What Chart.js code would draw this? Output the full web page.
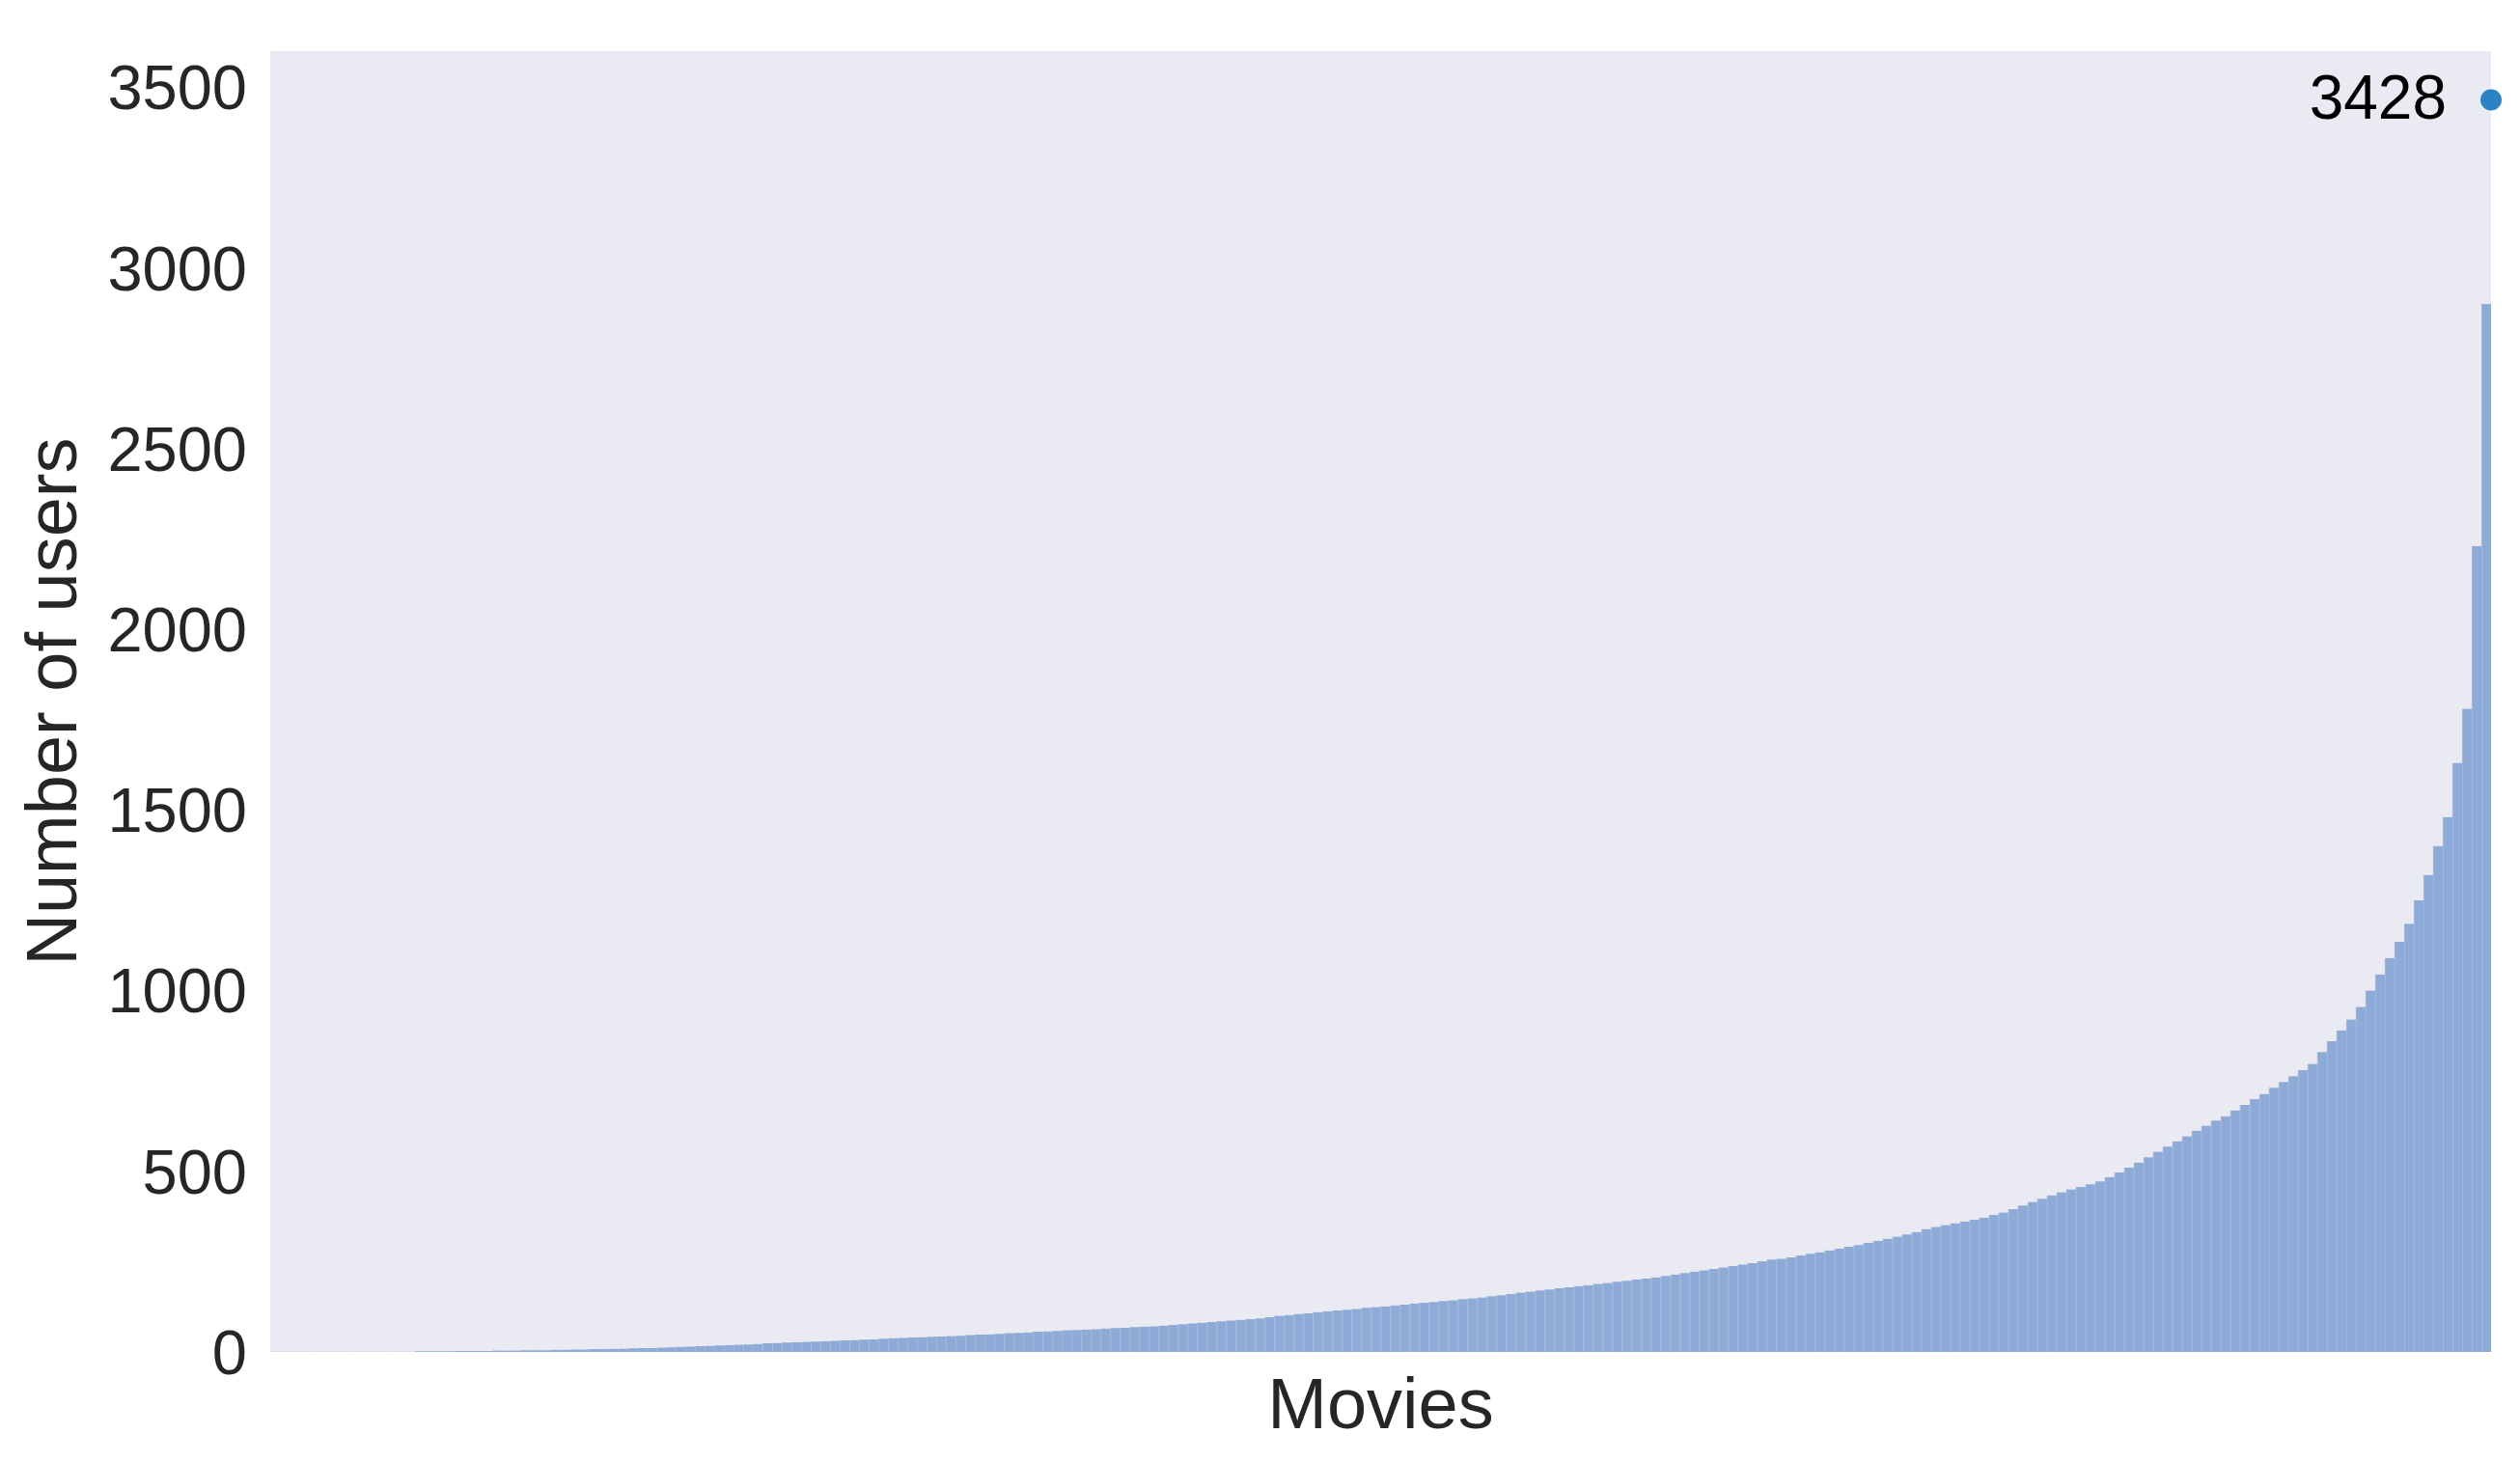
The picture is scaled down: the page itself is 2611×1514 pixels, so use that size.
<!DOCTYPE html>
<html>
<head>
<meta charset="utf-8">
<script src="https://cdn.jsdelivr.net/npm/chart.js@4.4.1/dist/chart.umd.min.js"></script>
<style>
  html, body { margin: 0; padding: 0; background: #ffffff; }
  #wrap { width: 2611px; height: 1514px; }
</style>
</head>
<body>
<div id="wrap"><canvas id="usersChart" width="2611" height="1514"></canvas></div>
<script>
/* DATA (movies sorted by number of users) */

const USERS_PER_MOVIE = [
  1, 1, 1, 1, 1, 1, 1, 1, 1, 1, 1, 1, 1, 1, 1,
  2, 2, 2, 2, 3, 3, 3, 3, 4, 4, 4, 5, 5, 5, 6, 6, 7, 7, 8, 8, 9, 9,
  10, 11, 11, 12, 13, 14, 15, 16, 17, 18, 19, 20, 21, 22, 24,
  25, 26, 27, 28, 29, 30, 31, 32, 33, 34,
  35, 37, 38, 39, 40, 41, 42, 43, 44, 45,
  47, 48, 49, 50, 52, 53, 54, 56, 57, 58,
  60, 61, 62, 63, 65, 66, 67, 69, 70, 71,
  73, 75, 77, 79, 81, 83, 85, 87, 89, 91,
  93, 96,
  100, 102, 105, 107, 110, 112, 115, 117, 119, 122,
  124, 126, 129, 131, 134, 136, 138, 141, 143, 146,
  148, 151, 154, 157, 160, 164, 167, 170, 173, 176,
  179, 182, 185, 188, 191, 194, 197, 200, 203, 206,
  210, 214, 218, 222, 226, 230, 234, 238, 242, 246,
  251, 256,
  258, 262, 267, 272, 276, 281, 286, 291, 296, 302,
  307, 313, 319, 325, 332, 340, 346, 351, 356, 361,
  366, 372, 379, 386, 395, 405, 415, 424, 433, 442,
  450, 457, 464, 472, 484, 497, 510, 524, 539, 554,
  568, 583, 597, 612, 626, 640, 652, 668, 684, 700,
  714, 731,
  747, 763, 780, 797, 830, 860, 890, 920, 955, 1000,
  1045, 1090, 1135, 1185, 1250, 1320, 1400, 1480, 1630, 1780,
  2230, 2900
];

const MAX_USERS = 3428;        // annotated maximum
const MAX_DOT_Y = 3465;        // where the marker sits in the picture
const Y_TICKS = [0, 500, 1000, 1500, 2000, 2500, 3000, 3500];
const Y_MAX = 3600;

const N = USERS_PER_MOVIE.length;
const barPoints = USERS_PER_MOVIE.map((v, i) => ({ x: i + 1, y: v }));

/* PLUGINS */

const plotBackground = {
  id: "plotBackground",
  beforeDraw(chart) {
    const { ctx, chartArea: a } = chart;
    ctx.save();
    ctx.fillStyle = "#eaeaf2";
    ctx.fillRect(a.left, a.top, a.right - a.left, a.bottom - a.top);
    ctx.restore();
  }
};

const maxLabel = {
  id: "maxLabel",
  afterDatasetsDraw(chart) {
    const pt = chart.getDatasetMeta(1).data[0];
    if (!pt) return;
    const ctx = chart.ctx;
    ctx.save();
    ctx.font = '64px "Liberation Sans", Arial, sans-serif';
    ctx.fillStyle = "#000000";
    ctx.textAlign = "right";
    ctx.textBaseline = "middle";
    ctx.fillText(String(MAX_USERS), pt.x - 46, pt.y + 2);
    ctx.restore();
  }
};

/* CHART */

new Chart(document.getElementById("usersChart"), {
  type: "bar",
  data: {
    datasets: [
      {
        type: "bar",
        data: barPoints,
        backgroundColor: "#8eabd8",
        borderColor: "rgba(98,138,204,0.45)",
        borderWidth: { left: 1, right: 0, top: 0, bottom: 0 },
        borderSkipped: false,
        barPercentage: 1,
        categoryPercentage: 1,
        order: 2
      },
      {
        type: "line",
        data: [{ x: N + 0.5, y: MAX_DOT_Y }],
        showLine: false,
        pointRadius: 11,
        pointBackgroundColor: "#2b83c6",
        pointBorderWidth: 0,
        clip: false,
        order: 1
      }
    ]
  },
  options: {
    responsive: false,
    animation: false,
    devicePixelRatio: 1,
    layout: { padding: { top: 53, right: 30, left: 0, bottom: 0 } },
    plugins: {
      legend: { display: false },
      tooltip: { enabled: false }
    },
    scales: {
      x: {
        type: "linear",
        min: 0.5,
        max: N + 0.5,
        offset: false,
        grid: { display: false, drawTicks: false, offset: false },
        border: { display: false },
        ticks: { display: false },
        title: {
          display: true,
          text: "Movies",
          color: "#262626",
          font: { family: '"Liberation Sans", Arial, sans-serif', size: 74 },
          padding: { top: 0, bottom: 10 }
        },
        afterFit(scale) {
          scale.height = 113;
          scale.paddingLeft = 0;
          scale.paddingRight = 0;
        }
      },
      y: {
        min: 0,
        max: Y_MAX,
        grid: { display: false, drawTicks: false },
        border: { display: false },
        ticks: {
          color: "#262626",
          padding: 24,
          labelOffset: 5,
          font: { family: '"Liberation Sans", Arial, sans-serif', size: 65 },
          callback: v => String(v)
        },
        afterBuildTicks(scale) { scale.ticks = Y_TICKS.map(v => ({ value: v })); },
        title: {
          display: true,
          text: "Number of users",
          color: "#262626",
          font: { family: '"Liberation Sans", Arial, sans-serif', size: 74 },
          padding: { top: 14, bottom: 0 }
        },
        afterFit(scale) {
          scale.width = 280;
          scale.paddingTop = 0;
          scale.paddingBottom = 0;
        }
      }
    }
  },
  plugins: [plotBackground, maxLabel]
});
</script>
</body>
</html>
